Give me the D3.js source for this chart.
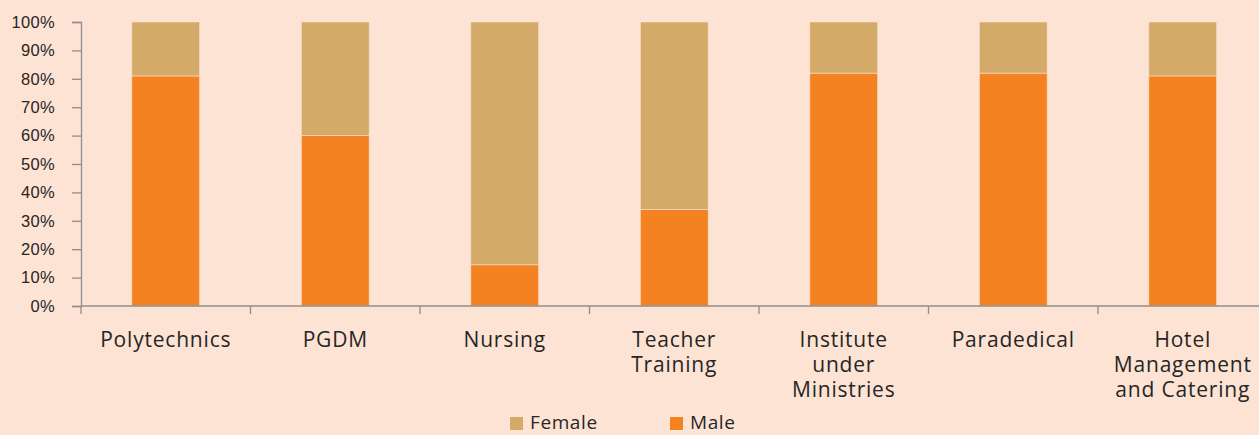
<!DOCTYPE html>
<html>
<head>
<meta charset="utf-8">
<script src="https://cdn.jsdelivr.net/npm/d3@7"></script>
<style>
  body { margin: 0; background: #fde3d4; }
  svg { display: block; font-family: "Open Sans", "Noto Sans", sans-serif; }
</style>
</head>
<body>
<div id="chart"></div>
<script>
// categories, one label line per array entry
const categories = [
  ["Polytechnics"],
  ["PGDM"],
  ["Nursing"],
  ["Teacher", "Training"],
  ["Institute", "under", "Ministries"],
  ["Paradedical"],
  ["Hotel", "Management", "and Catering"]
];
const maleShare = [81, 60, 14.5, 34, 82, 82, 81];
const femaleShare = [19, 40, 85.5, 66, 18, 18, 19];
const yTicks = [0, 10, 20, 30, 40, 50, 60, 70, 80, 90, 100];
const legendItems = ["Female", "Male"];

const colors = { Male: "#f58220", Female: "#d3aa68" };

const W = 1259, H = 435;
const margin = { top: 22, left: 81, bottom: 129 };
const plotBottom = H - margin.bottom;

const svg = d3.select("#chart").append("svg")
  .attr("width", W).attr("height", H);

svg.append("rect").attr("width", W).attr("height", H).attr("fill", "#fde3d4");

const keys = categories.map(c => c.join(" "));
const x = d3.scaleBand()
  .domain(keys)
  .range([margin.left, margin.left + 169.5 * keys.length])
  .paddingInner(0).paddingOuter(0);
const y = d3.scaleLinear().domain([0, 100]).range([plotBottom, margin.top]);

const barW = x.bandwidth() * 0.4;
const rows = keys.map((k, i) => ({ key: k, Male: maleShare[i], Female: femaleShare[i] }));
const stack = d3.stack().keys(["Male", "Female"])(rows);

svg.append("g").selectAll("g")
  .data(stack)
  .join("g")
  .attr("fill", d => colors[d.key])
  .selectAll("rect")
  .data(d => d)
  .join("rect")
  .attr("x", d => x(d.data.key) + (x.bandwidth() - barW) / 2)
  .attr("y", d => y(d[1]))
  .attr("width", barW)
  .attr("height", d => y(d[0]) - y(d[1]))
  .attr("stroke", "#fbe0cc")
  .attr("stroke-width", 0.6);

// y axis
const yAxis = svg.append("g")
  .attr("transform", `translate(${margin.left},0)`)
  .call(d3.axisLeft(y).tickValues(yTicks).tickFormat(d => d + "%").tickSize(9).tickSizeOuter(9));
yAxis.select(".domain").attr("stroke", "#8e8e8e").attr("stroke-width", 1.3);
yAxis.selectAll(".tick line").attr("stroke", "#8e8e8e").attr("stroke-width", 1.3);
yAxis.selectAll(".tick text")
  .attr("x", -26).attr("fill", "#262626")
  .style("font-size", "16.5px").style("letter-spacing", "0.3px")
  .attr("text-anchor", "end");

// x axis
const xTickPos = d3.range(keys.length + 1).map(i => margin.left + i * x.step());
const xAxis = svg.append("g");
xAxis.append("line")
  .attr("x1", margin.left).attr("x2", x.range()[1])
  .attr("y1", plotBottom).attr("y2", plotBottom)
  .attr("stroke", "#8e8e8e").attr("stroke-width", 1.3);
xAxis.selectAll("line.tk")
  .data(xTickPos)
  .join("line")
  .attr("class", "tk")
  .attr("x1", d => d).attr("x2", d => d)
  .attr("y1", plotBottom).attr("y2", plotBottom + 8)
  .attr("stroke", "#8e8e8e").attr("stroke-width", 1.3);

const labels = svg.append("g").selectAll("text")
  .data(categories)
  .join("text")
  .attr("x", (d, i) => x(keys[i]) + x.bandwidth() / 2)
  .attr("y", plotBottom + 41)
  .attr("text-anchor", "middle")
  .attr("fill", "#262626")
  .style("font-size", "21px")
  .style("letter-spacing", "0.8px");
labels.selectAll("tspan")
  .data(d => d)
  .join("tspan")
  .attr("x", function() { return this.parentNode.getAttribute("x"); })
  .attr("dy", (d, i) => i === 0 ? 0 : 25)
  .text(d => d);

// legend
const legend = svg.append("g").selectAll("g")
  .data(legendItems)
  .join("g")
  .attr("transform", (d, i) => `translate(${510 + i * 160},${H - 18})`);
legend.append("rect")
  .attr("width", 13).attr("height", 13)
  .attr("fill", d => colors[d]);
legend.append("text")
  .attr("x", 20).attr("y", 12)
  .attr("fill", "#262626")
  .style("font-size", "19px")
  .style("letter-spacing", "0.6px")
  .text(d => d);
</script>
</body>
</html>
